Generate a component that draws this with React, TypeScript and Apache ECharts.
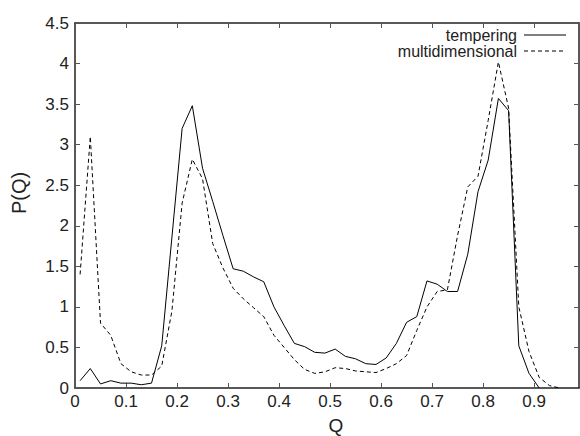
import React, { useEffect, useRef } from "react";
import * as echarts from "echarts";

// Q grid points (both series sampled at the same Q values)
const qValues = [
  0.01, 0.03, 0.05, 0.07, 0.09, 0.11, 0.13, 0.15, 0.17, 0.19,
  0.21, 0.23, 0.25, 0.27, 0.29, 0.31, 0.33, 0.35, 0.37, 0.39,
  0.41, 0.43, 0.45, 0.47, 0.49, 0.51, 0.53, 0.55, 0.57, 0.59,
  0.61, 0.63, 0.65, 0.67, 0.69, 0.71, 0.73, 0.75, 0.77, 0.79,
  0.81, 0.83, 0.85, 0.87, 0.89, 0.91, 0.93, 0.95,
];

const tempering = [
  0.09, 0.24, 0.05, 0.09, 0.06, 0.06, 0.04, 0.06, 0.52, 1.86,
  3.2, 3.48, 2.71, 2.3, 1.88, 1.47, 1.44, 1.37, 1.31, 1.0,
  0.77, 0.55, 0.51, 0.44, 0.43, 0.48, 0.39, 0.36, 0.3, 0.29,
  0.37, 0.55, 0.81, 0.88, 1.32, 1.28, 1.19, 1.19, 1.65, 2.42,
  2.81, 3.57, 3.42, 0.52, 0.18, 0.0,
];

const multidimensional = [
  1.4, 3.1, 0.8, 0.65, 0.3, 0.2, 0.16, 0.16, 0.27, 0.95,
  2.28, 2.82, 2.58, 1.78, 1.48, 1.23, 1.1, 0.99, 0.88, 0.65,
  0.5, 0.35, 0.23, 0.18, 0.2, 0.25, 0.24, 0.21, 0.2, 0.19,
  0.24, 0.3, 0.4, 0.71, 1.0, 1.19, 1.21, 1.88, 2.48, 2.61,
  3.3, 4.02, 3.45, 1.0, 0.45, 0.13, 0.03, 0.0,
];

const seriesNames = ["tempering", "multidimensional"];
const xName = "Q";
const yName = "P(Q)";

const FONT = '"Liberation Sans", Arial, Helvetica, sans-serif';

function pairs(vals: number[]) {
  return vals.map((v, i) => [qValues[i], v]);
}

export default function App() {
  const ref = useRef<HTMLDivElement>(null);

  useEffect(() => {
    if (!ref.current) return;
    const chart = echarts.init(ref.current, null, { renderer: "svg" });

    const xLabelFmt = (v: number) => {
      const t = v * 10;
      if (Math.abs(t - Math.round(t)) > 1e-6 || v > 0.95) return "";
      return String(Math.round(t) / 10);
    };

    const axisLineStyle = { color: "#222", width: 1.5 };
    const tickStyle = { color: "#555", width: 1 };

    chart.setOption({
      animation: false,
      backgroundColor: "#fff",
      grid: { left: 75, right: 1, top: 23, bottom: 48, containLabel: false },
      xAxis: [
        {
          type: "value",
          min: 0,
          max: 0.988,
          interval: 0.1,
          position: "bottom",
          axisLine: { show: true, onZero: false, lineStyle: axisLineStyle },
          axisTick: { show: true, inside: true, length: 5, lineStyle: tickStyle },
          axisLabel: {
            formatter: xLabelFmt,
            fontSize: 17,
            color: "#222",
            margin: 5,
            fontFamily: FONT,
            showMaxLabel: false,
          },
          splitLine: { show: false },
        },
        {
          type: "value",
          min: 0,
          max: 0.988,
          interval: 0.1,
          position: "top",
          axisLine: { show: true, onZero: false, lineStyle: axisLineStyle },
          axisTick: { show: true, inside: true, length: 5, lineStyle: tickStyle },
          axisLabel: { show: false },
          splitLine: { show: false },
        },
      ],
      yAxis: [
        {
          type: "value",
          min: 0,
          max: 4.5,
          interval: 0.5,
          position: "left",
          axisLine: { show: true, onZero: false, lineStyle: axisLineStyle },
          axisTick: { show: true, inside: true, length: 5, lineStyle: tickStyle },
          axisLabel: { fontSize: 17, color: "#222", margin: 6, fontFamily: FONT },
          splitLine: { show: false },
        },
        {
          type: "value",
          min: 0,
          max: 4.5,
          interval: 0.5,
          position: "right",
          axisLine: { show: true, onZero: false, lineStyle: axisLineStyle },
          axisTick: { show: true, inside: true, length: 5, lineStyle: tickStyle },
          axisLabel: { show: false },
          splitLine: { show: false },
        },
      ],
      series: [
        {
          name: seriesNames[0],
          type: "line",
          xAxisIndex: 0,
          yAxisIndex: 0,
          symbol: "none",
          showSymbol: false,
          lineStyle: { color: "#000", width: 1 },
          data: pairs(tempering),
          z: 3,
        },
        {
          name: seriesNames[1],
          type: "line",
          xAxisIndex: 0,
          yAxisIndex: 0,
          symbol: "none",
          showSymbol: false,
          lineStyle: { color: "#000", width: 1, type: [4, 3] },
          data: pairs(multidimensional),
          z: 2,
        },
      ],
      graphic: [
        {
          type: "text",
          x: 336,
          y: 425,
          style: {
            text: xName,
            fontSize: 19,
            fontFamily: FONT,
            fill: "#222",
            align: "center",
            verticalAlign: "middle",
          },
        },
        {
          type: "text",
          x: 19,
          y: 193,
          rotation: Math.PI / 2,
          style: {
            text: yName,
            fontSize: 20,
            fontFamily: FONT,
            fill: "#222",
            align: "center",
            verticalAlign: "middle",
          },
        },
        {
          type: "text",
          x: 517,
          y: 35,
          style: {
            text: seriesNames[0],
            fontSize: 16,
            fontFamily: FONT,
            fill: "#222",
            align: "right",
            verticalAlign: "middle",
          },
        },
        {
          type: "line",
          shape: { x1: 524, y1: 35, x2: 566, y2: 35 },
          style: { stroke: "#000", lineWidth: 1 },
        },
        {
          type: "text",
          x: 517,
          y: 51,
          style: {
            text: seriesNames[1],
            fontSize: 16,
            fontFamily: FONT,
            fill: "#222",
            align: "right",
            verticalAlign: "middle",
          },
        },
        {
          type: "line",
          shape: { x1: 524, y1: 51, x2: 566, y2: 51 },
          style: { stroke: "#000", lineWidth: 1, lineDash: [4, 3] },
        },
      ],
    });

    return () => {
      chart.dispose();
    };
  }, []);

  return (
    <div
      ref={ref}
      style={{ position: "fixed", left: 0, top: 0, width: 580, height: 436, background: "#fff" }}
    />
  );
}
